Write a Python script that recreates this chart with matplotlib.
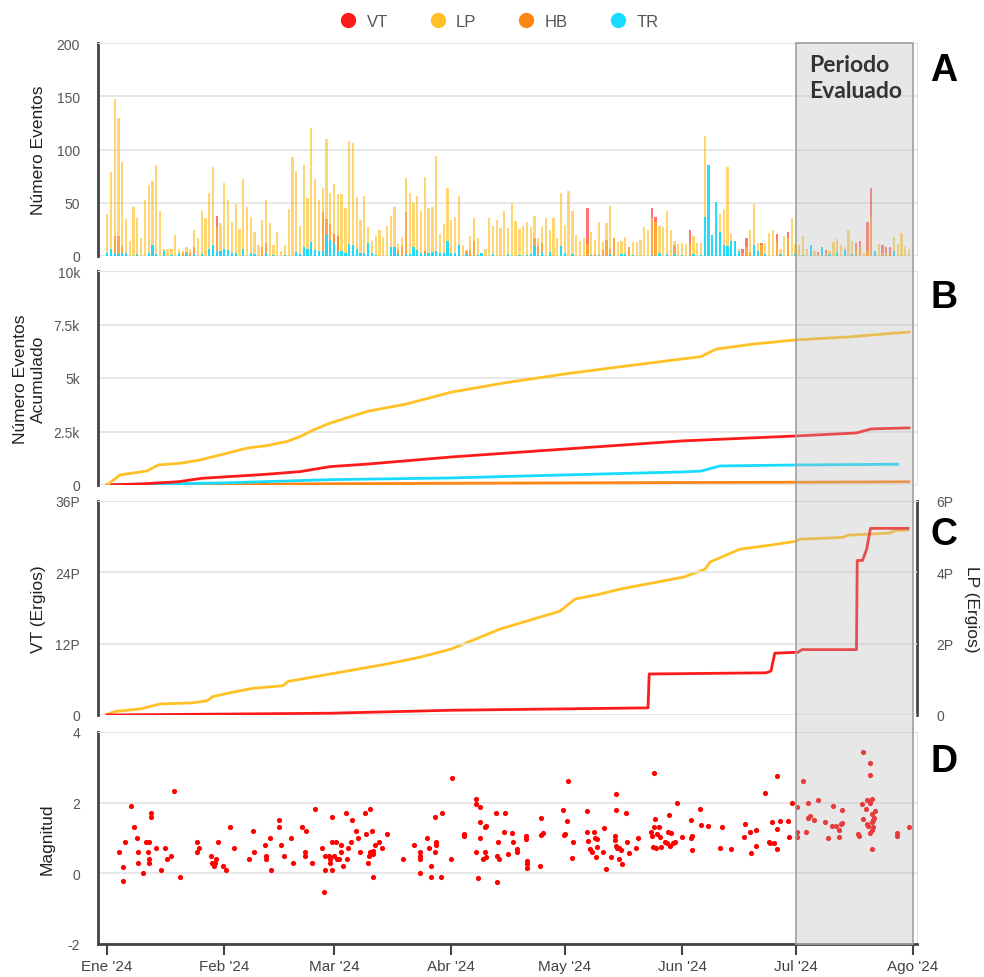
import numpy as np
from matplotlib import pyplot as plt
from matplotlib import transforms
from matplotlib.patches import Rectangle
from matplotlib.lines import Line2D

plt.rcParams['font.family'] = ['Liberation Sans', 'DejaVu Sans']

# dias desde 1 ene 2024
dias = np.arange(213)
inicio = np.datetime64('2024-01-01')
meses = np.arange('2024-01', '2024-09', dtype='datetime64[M]').astype('datetime64[D]')
mes_dias = (meses - inicio).astype(int)
mes_txt = ["Ene '24", "Feb '24", "Mar '24", "Abr '24", "May '24", "Jun '24", "Jul '24", "Ago '24"]
periodo_ini = (np.datetime64('2024-07-01') - inicio).astype(int)
periodo_fin = (np.datetime64('2024-08-01') - inicio).astype(int)

# A - numero de eventos diarios
lp_diario = [39, 79, 147, 130, 88, 35, 14, 46, 36, 17,
             53, 67, 70, 85, 42, 7, 7, 7, 20, 7,
             5, 8, 7, 24, 17, 42, 36, 59, 84, 27,
             31, 69, 53, 32, 49, 25, 72, 46, 37, 23,
             10, 34, 53, 31, 10, 23, 5, 10, 44, 93,
             80, 28, 85, 54, 120, 72, 53, 64, 110, 59,
             68, 58, 58, 45, 108, 106, 55, 34, 56, 27,
             14, 19, 24, 18, 28, 38, 46, 11, 18, 73,
             59, 50, 56, 42, 74, 45, 46, 94, 21, 30,
             64, 34, 37, 56, 10, 6, 19, 36, 17, 2,
             7, 36, 28, 34, 26, 42, 26, 50, 33, 25,
             28, 32, 27, 38, 17, 27, 36, 24, 36, 17,
             59, 29, 61, 42, 20, 14, 17, 11, 23, 15,
             32, 13, 31, 47, 17, 13, 14, 18, 8, 13,
             13, 15, 27, 24, 36, 32, 28, 27, 42, 24,
             14, 11, 12, 11, 11, 19, 12, 12, 113, 20,
             15, 30, 39, 44, 84, 21, 14, 7, 3, 8,
             24, 49, 12, 10, 12, 22, 24, 14, 7, 19,
             17, 36, 11, 10, 19, 7, 2, 5, 2, 2,
             3, 5, 13, 16, 10, 8, 24, 14, 7, 8,
             3, 5, 38, 2, 11, 3, 3, 3, 18, 11,
             22, 8, 7]
vt_diario = [0, 0, 19, 19, 9, 3, 0, 0, 0, 0,
             0, 0, 0, 0, 0, 0, 0, 0, 0, 0,
             3, 4, 3, 8, 0, 0, 0, 0, 0, 38,
             0, 0, 0, 0, 0, 0, 0, 0, 0, 0,
             0, 8, 12, 0, 0, 0, 0, 0, 0, 0,
             0, 0, 0, 0, 0, 0, 0, 41, 35, 30,
             0, 0, 0, 0, 0, 0, 0, 0, 0, 0,
             0, 0, 0, 0, 0, 0, 7, 6, 9, 41,
             0, 0, 0, 0, 0, 0, 0, 0, 0, 0,
             0, 0, 0, 0, 0, 5, 6, 14, 0, 0,
             0, 0, 0, 0, 0, 0, 0, 0, 0, 0,
             0, 0, 0, 17, 9, 12, 0, 0, 0, 0,
             0, 0, 0, 0, 0, 0, 0, 45, 0, 2,
             0, 6, 15, 7, 17, 0, 0, 0, 8, 0,
             0, 0, 0, 0, 45, 37, 0, 0, 0, 0,
             10, 0, 0, 0, 24, 0, 0, 0, 0, 0,
             0, 0, 0, 0, 0, 0, 0, 0, 7, 17,
             4, 0, 0, 12, 0, 0, 0, 21, 0, 0,
             23, 0, 0, 0, 0, 0, 0, 0, 4, 0,
             6, 0, 0, 2, 0, 0, 0, 0, 12, 14,
             0, 32, 64, 0, 0, 10, 8, 8, 0, 0,
             0, 0, 0]
hb_diario = [0, 0, 0, 0, 2, 0, 0, 0, 0, 0,
             0, 0, 0, 0, 0, 0, 0, 0, 0, 0,
             0, 0, 0, 0, 0, 0, 0, 0, 0, 0,
             0, 0, 0, 0, 0, 0, 0, 0, 0, 0,
             0, 0, 0, 0, 0, 0, 0, 0, 0, 0,
             0, 0, 0, 0, 0, 0, 0, 0, 0, 0,
             21, 19, 0, 0, 0, 0, 0, 0, 0, 0,
             0, 0, 0, 0, 0, 0, 0, 3, 0, 0,
             0, 0, 0, 0, 5, 0, 0, 0, 0, 0,
             0, 0, 0, 0, 0, 0, 0, 0, 0, 0,
             0, 0, 0, 0, 0, 0, 0, 0, 0, 0,
             0, 0, 0, 3, 0, 0, 0, 0, 0, 0,
             0, 0, 0, 0, 0, 0, 0, 0, 0, 0,
             0, 0, 0, 0, 0, 0, 0, 0, 0, 0,
             0, 0, 0, 0, 0, 0, 0, 0, 0, 0,
             0, 0, 0, 0, 0, 0, 0, 0, 0, 0,
             0, 0, 0, 0, 0, 0, 0, 0, 0, 0,
             0, 0, 0, 0, 0, 0, 0, 0, 0, 0,
             0, 0, 0, 0, 0, 0, 0, 0, 0, 0,
             0, 0, 0, 0, 0, 0, 0, 0, 0, 0,
             0, 0, 0, 0, 0, 0, 0, 3, 0, 0,
             0, 0, 0]
tr_diario = [3, 7, 3, 2, 3, 3, 0, 0, 2, 0,
             0, 3, 10, 2, 0, 5, 0, 1, 0, 3,
             0, 2, 0, 2, 0, 2, 0, 7, 10, 5,
             5, 7, 6, 3, 3, 0, 7, 0, 3, 2,
             0, 0, 3, 0, 1, 0, 0, 1, 0, 0,
             4, 2, 8, 7, 13, 6, 5, 5, 20, 15,
             12, 5, 5, 3, 11, 10, 7, 3, 3, 12,
             3, 1, 0, 0, 0, 8, 8, 2, 0, 2,
             2, 8, 6, 3, 3, 3, 4, 5, 3, 3,
             14, 3, 3, 10, 0, 2, 0, 0, 1, 3,
             0, 0, 2, 0, 0, 0, 2, 0, 0, 1,
             0, 1, 2, 9, 1, 4, 0, 4, 0, 0,
             9, 3, 0, 2, 0, 0, 0, 0, 1, 0,
             1, 0, 0, 2, 0, 0, 2, 2, 0, 1,
             0, 0, 0, 0, 1, 0, 3, 0, 2, 0,
             2, 0, 1, 0, 0, 2, 0, 1, 37, 85,
             20, 51, 23, 10, 9, 14, 14, 5, 0, 0,
             0, 10, 5, 0, 2, 0, 0, 0, 2, 0,
             0, 0, 2, 0, 1, 0, 10, 0, 0, 8,
             0, 2, 0, 4, 0, 6, 0, 2, 0, 0,
             0, 0, 0, 5, 0, 0, 0, 0, 5, 0,
             0, 0, 0]

# B - acumulado (dia, eventos)
lp_acum = [(0, 0), (3.4, 470), (10.5, 655), (13.6, 940), (19.3, 1015), (24.6, 1170),
           (33.4, 1560), (36.9, 1720), (42.2, 1840), (47.5, 2030), (51, 2260),
           (54.5, 2570), (58.9, 2890), (69, 3450), (79, 3780), (91, 4340),
           (105, 4770), (121, 5190), (135, 5510), (152, 5890), (157, 6000),
           (161, 6350), (171, 6590), (182, 6780), (196, 6920), (212, 7150)]
vt_acum = [(0, 0), (10, 60), (19, 156), (25, 312), (42, 500), (51, 625), (59, 860),
           (69, 980), (91, 1310), (121, 1680), (152, 2060), (182, 2290),
           (198, 2430), (202, 2620), (212, 2670)]
tr_acum = [(0, 0), (31, 100), (59, 250), (91, 330), (121, 470), (152, 610),
           (157, 650), (162, 890), (182, 935), (209, 970)]
hb_acum = [(0, 0), (60, 60), (121, 100), (182, 130), (212, 150)]

# C - energia acumulada (dia, P ergios)
vt_energia = [(0, 0), (59, 0.3), (91, 0.8), (143, 1.2), (143.3, 6.9), (174.2, 7.1),
              (175.5, 7.4), (176.5, 10.4), (182.6, 10.55), (183.7, 11.0), (198.1, 11.0),
              (198.3, 26.0), (199.7, 26.0), (200.8, 27.9), (201.8, 31.4), (211.7, 31.4)]
lp_energia = [(-0.5, 0), (2.2, 0.1), (8.8, 0.17), (14, 0.31), (22.7, 0.34), (26.4, 0.4),
              (28, 0.52), (33.3, 0.64), (38.6, 0.75), (46.5, 0.82), (47.8, 0.94),
              (59, 1.15), (74, 1.43), (82.7, 1.62), (91, 1.85), (103.9, 2.41),
              (119.7, 2.91), (123.7, 3.25), (130.3, 3.39), (135.6, 3.53), (152.5, 3.87),
              (158.1, 4.09), (159.4, 4.29), (167.3, 4.65), (175.2, 4.76), (182, 4.87),
              (183.1, 4.93), (194.5, 4.98), (195.8, 5.04), (206.9, 5.1), (208.2, 5.17),
              (211.7, 5.19)]

# D - magnitud (dia, magnitud)
sismos = [(3.1, 0.59), (4.1, 0.19), (4.1, -0.21), (4.8, 0.89), (6.4, 1.91), (7.0, 1.30),
          (7.8, 1.01), (8.1, 0.59), (8.1, 0.30), (9.5, 0.00), (10.4, 0.89), (10.7, 0.59),
          (11.2, 0.89), (11.2, 0.40), (11.2, 0.30), (11.6, 1.71), (11.6, 1.60), (12.9, 0.71),
          (14.2, 0.09), (15.2, 0.71), (15.9, 0.40), (16.9, 0.50), (17.6, 2.32), (19.4, -0.10),
          (23.8, 0.89), (23.8, 0.59), (24.4, 0.71), (27.4, 0.50), (27.8, 0.30), (28.2, 0.21),
          (28.5, 0.30), (28.8, 0.40), (29.3, 0.89), (30.7, 0.21), (31.5, 0.09), (32.5, 1.30),
          (33.6, 0.71), (37.6, 0.40), (38.7, 1.20), (38.9, 0.59), (41.7, 0.80), (42.0, 0.50),
          (42.0, 0.40), (43.1, 1.01), (43.4, 0.09), (45.5, 1.52), (45.5, 1.30), (46.1, 0.80),
          (46.8, 0.50), (48.5, 1.01), (49.2, 0.30), (51.5, 1.30), (52.2, 0.59), (52.5, 1.20),
          (52.2, 0.50), (54.3, 0.30), (54.9, 1.81), (56.9, 0.71), (57.3, -0.52), (57.6, 0.50),
          (57.6, 0.09), (58.7, 0.50), (59.0, 0.40), (59.0, 0.30), (59.4, 1.60), (59.4, 0.89),
          (59.4, 0.09), (60.0, 0.50), (60.4, 0.89), (60.7, 0.40), (61.4, 0.40), (61.8, 0.80),
          (61.8, 0.59), (62.4, 0.21), (63.1, 1.71), (63.4, 0.40), (63.8, 0.71), (64.5, 0.89),
          (64.8, 1.52), (65.8, 1.20), (66.2, 1.01), (66.8, 0.59), (68.2, 1.71), (68.5, 1.10),
          (68.9, 0.30), (69.3, 0.50), (69.6, 1.81), (69.6, 0.59), (70.0, 1.20), (70.2, 0.56),
          (70.3, -0.10), (70.3, 0.62), (70.7, 0.80), (72.0, 0.89), (72.6, 0.71), (74.0, 1.10),
          (78.1, 0.40), (81.1, 0.80), (82.8, 0.59), (82.8, 0.50), (82.8, 0.40), (82.8, 0.00),
          (84.5, 1.01), (85.2, 0.71), (85.6, 0.21), (85.6, -0.10), (86.6, 1.60), (86.8, 0.59),
          (86.9, 0.80), (87.0, 0.89), (88.3, -0.10), (88.5, 1.71), (90.9, 0.40), (91.3, 2.69),
          (94.3, 1.10), (94.3, 1.07), (97.4, 2.09), (97.4, 1.95), (97.4, 0.59), (98.0, -0.14),
          (98.7, 1.88), (98.7, 1.44), (98.7, 1.01), (99.4, 0.40), (100.0, 0.59), (100.0, 1.30),
          (100.1, 1.34), (100.1, 0.45), (102.8, 1.72), (103.0, -0.24), (103.1, 0.50), (103.3, 0.89),
          (103.5, 0.40), (104.9, 1.16), (105.3, 1.71), (106.0, 0.54), (107.0, 1.15), (107.2, 0.88),
          (108.3, 0.68), (108.4, 0.59), (110.7, 1.05), (110.7, 0.96), (110.9, 0.36), (111.1, 0.26),
          (111.1, 0.15), (114.4, 0.21), (114.7, 1.57), (114.7, 1.08), (115.2, 1.13), (120.5, 1.79),
          (120.8, 1.08), (121.1, 1.11), (121.6, 1.48), (121.8, 2.60), (123.2, 0.88), (122.9, 0.42),
          (126.9, 1.76), (126.9, 1.16), (127.0, 0.91), (127.6, 0.68), (128.1, 0.59), (128.6, 1.16),
          (129.1, 1.01), (129.4, 0.96), (129.6, 0.75), (129.2, 0.47), (131.3, 1.29), (131.2, 0.61),
          (132.0, 0.12), (133.3, 0.47), (134.2, 0.94), (134.3, 1.05), (134.4, 2.24), (134.4, 1.79),
          (134.6, 0.77), (134.9, 0.71), (135.4, 0.72), (135.4, 0.40), (135.9, 0.66), (136.2, 0.26),
          (137.1, 1.71), (137.4, 0.88), (137.9, 0.58), (139.8, 0.71), (140.4, 0.99), (143.8, 1.18),
          (144.0, 1.06), (144.6, 2.85), (144.8, 1.53), (144.6, 1.32), (144.4, 0.75), (145.0, 0.71),
          (145.5, 1.10), (145.8, 1.32), (146.1, 1.04), (146.3, 0.75), (147.4, 0.88), (147.9, 0.85),
          (148.3, 1.18), (148.6, 1.65), (148.8, 0.78), (149.2, 1.15), (149.7, 0.85), (150.2, 0.88),
          (150.6, 1.98), (152.0, 1.04), (154.3, 1.51), (154.3, 0.99), (154.5, 1.06), (154.7, 0.66),
          (156.7, 1.83), (157.1, 1.36), (158.8, 1.35), (162.1, 0.72), (162.6, 1.32), (164.8, 0.69),
          (168.6, 1.40), (168.4, 1.04), (170.0, 1.16), (170.3, 0.57), (171.6, 1.23), (171.6, 0.78),
          (174.0, 2.27), (174.9, 0.89), (175.2, 0.87), (175.9, 1.46), (176.3, 0.87), (177.0, 2.75),
          (177.1, 1.25), (177.1, 0.70), (178.0, 1.49), (180.0, 1.48), (180.2, 1.02), (181.1, 2.00),
          (182.3, 1.88), (182.4, 1.18), (182.4, 1.03), (184.0, 2.62), (184.8, 1.17), (185.2, 1.57),
          (185.3, 1.98), (185.8, 1.62), (186.8, 1.51), (187.9, 2.07), (189.8, 1.46), (190.6, 1.01),
          (191.9, 1.90), (191.6, 1.35), (192.7, 1.33), (193.5, 1.24), (193.5, 1.02), (194.1, 1.40),
          (194.3, 1.79), (194.3, 1.43), (198.5, 1.10), (198.8, 1.06), (199.5, 1.96), (199.7, 1.55),
          (199.8, 3.44), (200.5, 1.83), (200.8, 2.07), (200.9, 1.39), (201.2, 1.35), (201.7, 1.15),
          (201.7, 2.04), (201.8, 3.11), (201.8, 2.77), (201.8, 1.98), (202.1, 1.67), (202.2, 1.46),
          (202.4, 1.32), (202.2, 1.22), (202.2, 0.68), (202.2, 2.09), (202.5, 1.52), (202.8, 1.56),
          (203.0, 1.77), (208.7, 1.15), (208.9, 1.06), (212.0, 1.32)]

c_vt = '#ff1a1a'
c_lp = '#ffc125'
c_hb = '#ff8515'
c_tr = '#18dcff'

W, H = 984, 978
fig = plt.figure(figsize=(W / 100, H / 100), dpi=100)


def caja(arriba, abajo):
    return [98 / W, 1 - abajo / H, (917 - 98) / W, (abajo - arriba) / H]


def estilo(ax, ticks, etiquetas):
    ax.set_xlim(-2.4, 214.1)
    ax.set_ylim(ticks[0], ticks[-1])
    ax.set_yticks(ticks)
    ax.set_yticklabels(etiquetas)
    ax.grid(axis='y', color='#e4e4e4', lw=1.2)
    ax.set_axisbelow(True)
    ax.spines['left'].set_color('#444444')
    ax.spines['left'].set_linewidth(2)
    for s in ['top', 'right']:
        ax.spines[s].set_color('#e4e4e4')
    ax.spines['bottom'].set_visible(False)
    ax.tick_params(axis='y', length=0, pad=13, labelcolor='#555555', labelsize=10)
    ax.tick_params(axis='x', length=0, labelbottom=False)
    ax.yaxis.label.set_color('#222222')


axA = fig.add_axes(caja(44, 257))
axB = fig.add_axes(caja(272, 486))
axC = fig.add_axes(caja(502, 716))
axD = fig.add_axes(caja(733, 945))

# A
estilo(axA, [0, 50, 100, 150, 200], ['0', '50', '100', '150', '200'])
axA.bar(dias, vt_diario, width=0.6, color=c_vt, alpha=0.6, lw=0)
axA.bar(dias, lp_diario, width=0.6, color=c_lp, alpha=0.65, lw=0)
axA.bar(dias, hb_diario, width=0.6, color=c_hb, alpha=0.85, lw=0)
axA.bar(dias, tr_diario, width=0.6, color=c_tr, alpha=0.95, lw=0)
axA.set_ylabel('Número Eventos', fontsize=12.5)
axA.yaxis.set_label_coords(-0.064, 0.5)

# B
estilo(axB, [0, 2500, 5000, 7500, 10000], ['0', '2.5k', '5k', '7.5k', '10k'])
for serie, c in [(hb_acum, c_hb), (tr_acum, c_tr), (vt_acum, c_vt), (lp_acum, c_lp)]:
    x, y = zip(*serie)
    axB.plot(x, y, color=c, lw=2)
axB.set_ylabel('Número Eventos\nAcumulado', fontsize=12.5, linespacing=1.25)
axB.yaxis.set_label_coords(-0.064, 0.5)

# C
estilo(axC, [0, 12, 24, 36], ['0', '12P', '24P', '36P'])
axC2 = axC.twinx()
axC2.set_ylim(0, 6)
axC2.set_yticks([0, 2, 4, 6])
axC2.set_yticklabels(['0', '2P', '4P', '6P'])
for s in ['top', 'left', 'bottom']:
    axC2.spines[s].set_visible(False)
axC2.spines['right'].set_color('#444444')
axC2.spines['right'].set_linewidth(2)
axC.spines['right'].set_visible(False)
axC2.tick_params(axis='y', length=0, pad=14, labelcolor='#555555', labelsize=10)
x, y = zip(*lp_energia)
axC2.plot(x, y, color=c_lp, lw=2)
axC.set_zorder(axC2.get_zorder() + 1)
axC.patch.set_visible(False)
x, y = zip(*vt_energia)
axC.plot(x, y, color=c_vt, lw=2)
axC.set_ylabel('VT (Ergios)', fontsize=12.5)
axC.yaxis.set_label_coords(-0.064, 0.5)
axC2.set_ylabel('LP (Ergios)', fontsize=12.5, rotation=270, color='#222222', labelpad=18)

# D
estilo(axD, [-2, 0, 2, 4], ['-2', '0', '2', '4'])
x, y = zip(*sismos)
axD.scatter(x, y, s=14, color='#ff0000', lw=0)
axD.spines['bottom'].set_visible(True)
axD.spines['bottom'].set_color('#444444')
axD.spines['bottom'].set_linewidth(2)
axD.set_xticks(mes_dias)
axD.set_xticklabels(mes_txt)
axD.tick_params(axis='x', length=8, width=1.5, color='#444444', pad=3,
                labelbottom=True, labelsize=11, labelcolor='#444444')
axD.set_ylabel('Magnitud', fontsize=12.5)
axD.yaxis.set_label_coords(-0.053, 0.5)

# periodo evaluado
tr_box = transforms.blended_transform_factory(axD.transData, fig.transFigure)
fig.add_artist(Rectangle((periodo_ini, 1 - 945 / H), periodo_fin - periodo_ini, (945 - 44) / H,
                         transform=tr_box, facecolor='#b8b8b8', alpha=0.33, lw=0, zorder=5))
fig.add_artist(Rectangle((periodo_ini, 1 - 945 / H), periodo_fin - periodo_ini, (945 - 44) / H,
                         transform=tr_box, fill=False, edgecolor='#a0a0a0', lw=1.2, zorder=6))
fig.text(809 / W, 1 - 55 / H, 'Periodo\nEvaluado', ha='left', va='top', fontsize=16.5,
         fontweight='bold', color='#333333', linespacing=1.3, family=['Lato', 'DejaVu Sans'],
         zorder=7)

for letra, yp in [('A', 71), ('B', 298), ('C', 535), ('D', 762)]:
    fig.text(944 / W, 1 - yp / H, letra, ha='center', va='center', fontsize=27,
             fontweight='bold', color='black')

handles = [Line2D([], [], marker='o', ls='', color=c, markersize=10, label=l)
           for l, c in [('VT', c_vt), ('LP', c_lp), ('HB', c_hb), ('TR', c_tr)]]
fig.legend(handles=handles, loc='upper center', bbox_to_anchor=(0.503, 1.0), ncol=4,
           frameon=False, fontsize=12, handletextpad=0.1, columnspacing=2.0,
           labelcolor='#555555')

fig.savefig('out.png', dpi=100)
